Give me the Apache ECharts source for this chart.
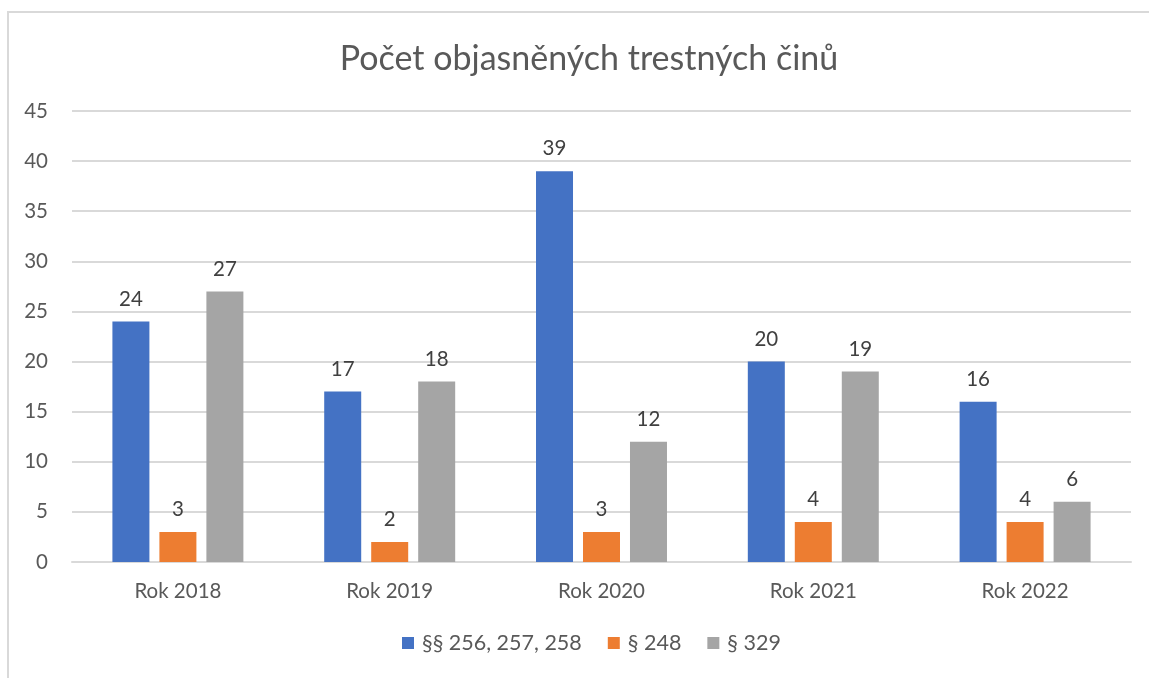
<!DOCTYPE html>
<html>
<head>
<meta charset="utf-8">
<script src="https://cdn.jsdelivr.net/npm/echarts@6/dist/echarts.min.js"></script>
<style>
  html, body { margin: 0; padding: 0; background: #fff; }
  #chart { width: 1149px; height: 678px; }
</style>
</head>
<body>
<div id="chart"></div>
<script>
// kategorie a hodnoty
const years = ['Rok 2018', 'Rok 2019', 'Rok 2020', 'Rok 2021', 'Rok 2022'];
const seriesNames = ['§§ 256, 257, 258', '§ 248', '§ 329'];
const par256 = [24, 17, 39, 20, 16];
const par248 = [3, 2, 3, 4, 4];
const par329 = [27, 18, 12, 19, 6];
const colors = ['#4472c4', '#ed7d31', '#a5a5a5'];

const font = 'Lato, "Open Sans", sans-serif';

const myChart = echarts.init(document.getElementById('chart'));

function barSeries(name, data) {
  return {
    name: name,
    type: 'bar',
    data: data,
    barWidth: 37,
    barGap: '27%',
    label: {
      show: true,
      position: 'top',
      distance: 12,
      color: '#404040',
      fontSize: 20.5,
      fontFamily: font
    }
  };
}

const option = {
  color: colors,
  animation: false,
  title: {
    text: 'Počet objasněných trestných činů',
    left: 584,
    textAlign: 'center',
    top: 37,
    textStyle: {
      color: '#595959',
      fontSize: 34,
      fontWeight: 'normal',
      fontFamily: font
    }
  },
  legend: {
    data: seriesNames,
    bottom: 19,
    left: 397,
    itemWidth: 12,
    itemHeight: 12,
    itemGap: 26,
    icon: 'rect',
    textStyle: {
      color: '#595959',
      fontSize: 21.5,
      fontFamily: font,
      padding: [0, 0, 0, 3]
    }
  },
  grid: {
    left: 72,
    right: 18,
    top: 111,
    bottom: 116
  },
  xAxis: {
    type: 'category',
    data: years,
    axisTick: { show: false },
    axisLine: { lineStyle: { color: '#d9d9d9', width: 2 } },
    axisLabel: {
      color: '#595959',
      fontSize: 20.5,
      fontFamily: font,
      margin: 19
    }
  },
  yAxis: {
    type: 'value',
    min: 0,
    max: 45,
    interval: 5,
    axisLine: { show: false },
    axisTick: { show: false },
    splitLine: { lineStyle: { color: '#d9d9d9', width: 2 } },
    axisLabel: {
      color: '#595959',
      fontSize: 20.5,
      fontFamily: font,
      margin: 24
    }
  },
  graphic: [{
    type: 'rect',
    shape: { x: 8, y: 12, width: 1300, height: 800 },
    style: { fill: 'none', stroke: '#d9d9d9', lineWidth: 2 },
    silent: true
  }],
  series: [
    barSeries(seriesNames[0], par256),
    barSeries(seriesNames[1], par248),
    barSeries(seriesNames[2], par329)
  ]
};

myChart.setOption(option);
</script>
</body>
</html>
